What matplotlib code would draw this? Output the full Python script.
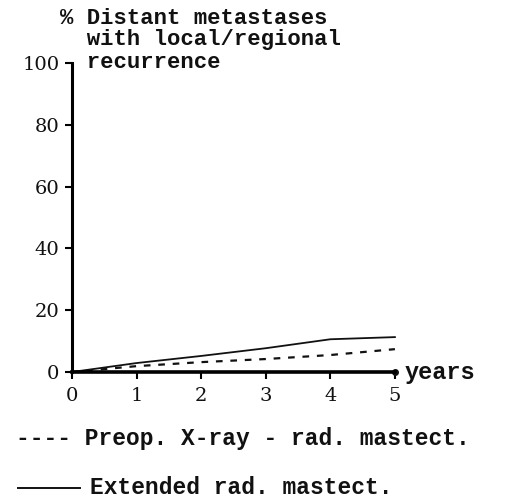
import matplotlib
matplotlib.use('Agg')
import matplotlib.pyplot as plt

# data
years = [0, 1, 2, 3, 4, 5]
preop_xray = [0, 1.9, 3.2, 4.2, 5.5, 7.4]
extended = [0, 2.9, 5.2, 7.7, 10.6, 11.3]
y_ticks = [0, 20, 40, 60, 80, 100]

title_lines = ['% Distant metastases', '  with local/regional', '  recurrence']
legend_labels = ['Preop. X-ray - rad. mastect.', 'Extended rad. mastect.']

font = dict(family='Liberation Mono', weight='bold', color='#111111')

fig = plt.figure(figsize=(5.21, 5.03), dpi=100)
ax = fig.add_axes([0.138, 0.2604, 0.62, 0.6143])

ax.plot(years, preop_xray, color='#111111', lw=1.6, ls=(0, (3, 3.5)), clip_on=False)
ax.plot(years, extended, color='#111111', lw=1.3, clip_on=False)

ax.set_xlim(0, 5)
ax.set_ylim(0, 100)
for s in ['top', 'right']:
    ax.spines[s].set_visible(False)
ax.spines['left'].set_linewidth(2.2)
ax.spines['bottom'].set_linewidth(2.6)
ax.plot([5], [0], 'o', color='#111111', ms=4, clip_on=False)

ax.set_xticks(years)
ax.set_yticks(y_ticks)
ax.tick_params(axis='x', direction='out', length=5, width=1.5, pad=6)
ax.tick_params(axis='y', direction='out', length=5, width=1.5, pad=4)
for lab in ax.get_xticklabels() + ax.get_yticklabels():
    lab.set_fontfamily('DejaVu Serif')
    lab.set_fontsize(14)
    lab.set_color('#111111')

# title text block
for i, t in enumerate(title_lines):
    fig.text(60 / 521, 1 - (18 + 22 * i) / 503, t, fontsize=16, va='center', ha='left', **font)

fig.text(405 / 521, 1 - 372 / 503, 'years', fontsize=17, va='center', ha='left', **font)

# legend drawn by hand
fig.text(16 / 521, 1 - 439 / 503, '---- ' + legend_labels[0], fontsize=16.5, va='center', ha='left', **font)
fig.add_artist(plt.Line2D([18 / 521, 80 / 521], [1 - 488 / 503] * 2, color='#111111', lw=1.4))
fig.text(90 / 521, 1 - 487 / 503, legend_labels[1], fontsize=16.5, va='center', ha='left', **font)

fig.savefig('out.png', dpi=100)
